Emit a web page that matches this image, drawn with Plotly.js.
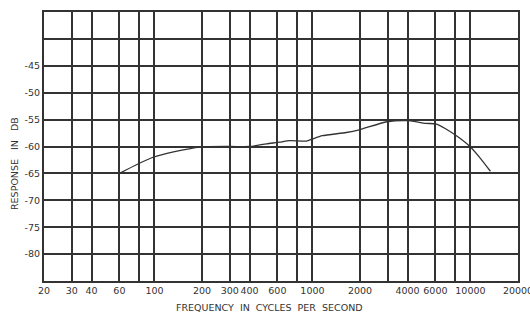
<!DOCTYPE html>
<html>
<head>
<meta charset="utf-8">
<script src="https://cdn.plot.ly/plotly-3.0.1.min.js"></script>
<style>html,body{margin:0;padding:0;background:#fff;}#chart{width:530px;height:314px;}</style>
</head>
<body>
<div id="chart"></div>
<script>
const frequency = [60, 78, 98, 132, 195, 300, 400, 513, 620, 717, 917, 1000, 1156, 1636, 1976, 2965, 4070, 5210, 6020, 6960, 8410, 10000, 11560, 13380];
const responseDb = [-65, -63.3, -62, -61, -60.1, -60, -60, -59.5, -59.2, -58.9, -59.0, -58.6, -58, -57.4, -56.9, -55.4, -55.2, -55.7, -55.8, -56.7, -58.3, -60.1, -62.2, -64.6];
const xTickVals = [20, 30, 40, 60, 80, 100, 200, 300, 400, 600, 800, 1000, 2000, 3000, 4000, 6000, 8000, 10000, 20000];
const xTickText = ['20', '30', '40', '60', '', '100', '200', '300', '400', '600', '', '1000', '2000', '', '4000', '6000', '', '10000', '20000'];
const yTickVals = [-85, -80, -75, -70, -65, -60, -55, -50, -45, -40, -35];
const yTickText = ['', '-80', '-75', '-70', '-65', '-60', '-55', '-50', '-45', '', ''];
const xTitle = 'FREQUENCY  IN  CYCLES  PER  SECOND';
const yTitle = 'RESPONSE   IN   DB';

const family = 'DejaVu Sans, sans-serif';
const tickFont = {family: family, size: 9.5, color: '#333'};
const titleFont = {family: family, size: 9.5, color: '#333'};
const data = [{
  x: frequency, y: responseDb, type: 'scatter', mode: 'lines',
  line: {color: '#333', width: 1.3, shape: 'spline', smoothing: 0.6},
  hoverinfo: 'x+y'
}];
const layout = {
  width: 530, height: 314,
  margin: {l: 44, r: 12, t: 12, b: 33},
  paper_bgcolor: '#fff', plot_bgcolor: '#fff',
  showlegend: false,
  font: tickFont,
  xaxis: {
    type: 'log', range: [Math.log10(20), Math.log10(20000)],
    tickmode: 'array', tickvals: xTickVals, ticktext: xTickText,
    showgrid: true, gridcolor: '#333', gridwidth: 2,
    showline: true, linecolor: '#333', linewidth: 2, mirror: true,
    ticks: '', zeroline: false, automargin: false,
    ticklabeloverflow: 'allow', tickangle: 0,
    tickfont: tickFont
  },
  yaxis: {
    range: [-85, -35],
    tickmode: 'array', tickvals: yTickVals, ticktext: yTickText,
    showgrid: true, gridcolor: '#333', gridwidth: 2,
    showline: true, linecolor: '#333', linewidth: 2, mirror: true,
    ticks: '', zeroline: false, automargin: false,
    tickfont: tickFont
  },
  annotations: [
    {text: xTitle, xref: 'paper', yref: 'paper', x: 0.475, y: -0.1, showarrow: false, font: titleFont, xanchor: 'center', yanchor: 'middle'},
    {text: yTitle, xref: 'paper', yref: 'paper', x: 0, xshift: -29, y: 0.435, showarrow: false, textangle: -90, font: titleFont, xanchor: 'center', yanchor: 'middle'}
  ]
};
Plotly.newPlot('chart', data, layout, {displayModeBar: false, staticPlot: true});
</script>
</body>
</html>
